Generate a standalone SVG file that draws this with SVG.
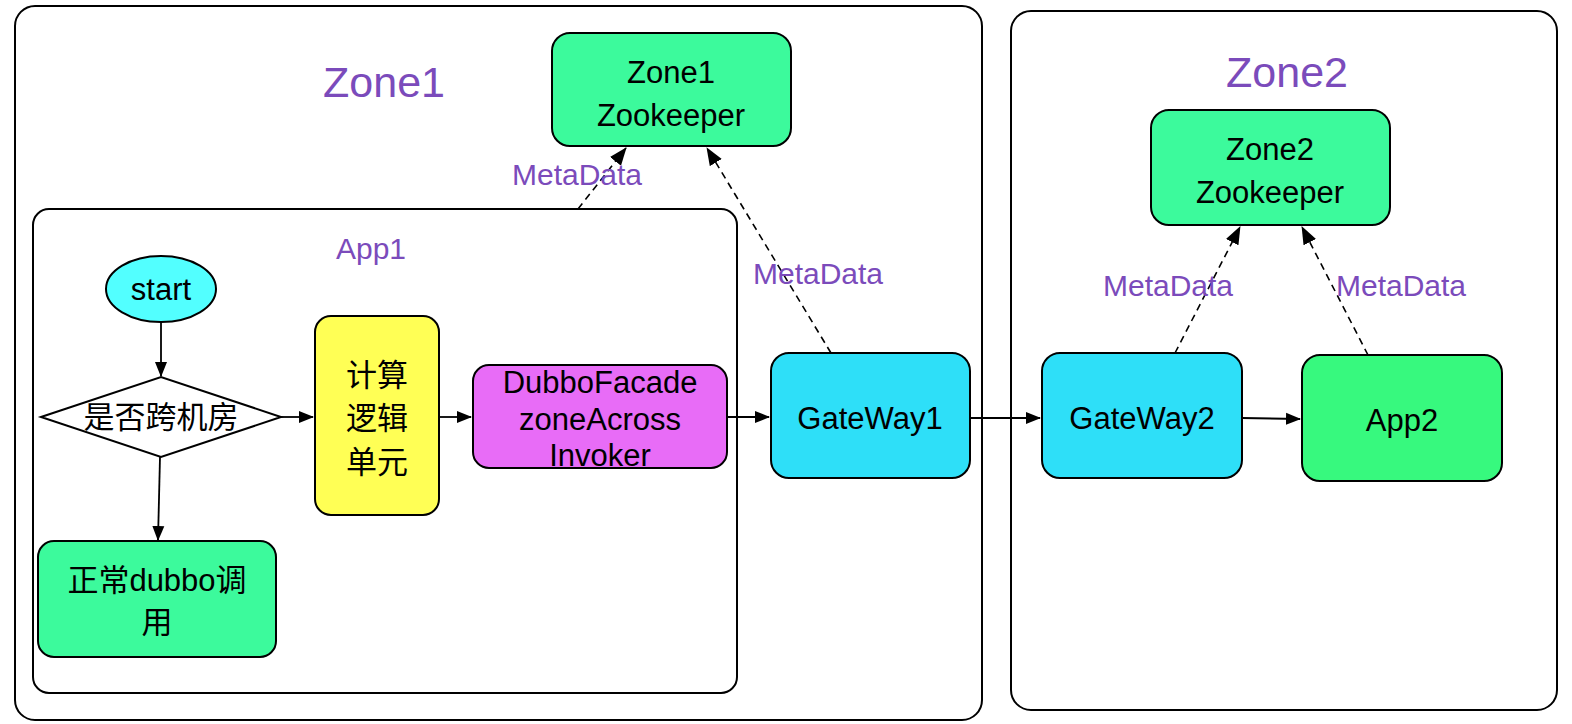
<svg xmlns="http://www.w3.org/2000/svg" width="1572" height="724" viewBox="0 0 1572 724">
<defs>
<marker id="ah" markerWidth="15" markerHeight="14" refX="14" refY="7" orient="auto" markerUnits="userSpaceOnUse">
<path d="M0,1 L15,7 L0,13 Z" fill="#000"/>
</marker>
<marker id="ahd" markerWidth="18" markerHeight="16" refX="17" refY="8" orient="auto" markerUnits="userSpaceOnUse">
<path d="M0,1 L18,8 L0,15 Z" fill="#000"/>
</marker>
<style>
.zone{fill:#fff;stroke:#000;stroke-width:2}
.box{stroke:#000;stroke-width:2}
.t{font-family:"Liberation Sans","Noto Sans CJK SC",sans-serif;font-size:31px;fill:#000;text-anchor:middle;dominant-baseline:central}
.p{font-family:"Liberation Sans","Noto Sans CJK SC",sans-serif;fill:#7b4bbb;text-anchor:middle;dominant-baseline:central}
.c{stroke:#000;stroke-width:1.8;fill:none;marker-end:url(#ah)}
.d{stroke:#000;stroke-width:1.6;fill:none;stroke-dasharray:7 5;marker-end:url(#ahd)}
</style>
</defs>
<g id="zone1">
<rect class="zone" x="15" y="6" width="967" height="714" rx="20"/>
<text class="p" x="384" y="82" font-size="43">Zone1</text>
</g>
<g id="zone2">
<rect class="zone" x="1011" y="11" width="546" height="699" rx="20"/>
<text class="p" x="1287" y="72" font-size="43">Zone2</text>
</g>
<g id="app1">
<rect class="zone" x="33" y="209" width="704" height="484" rx="16"/>
<text class="p" x="371" y="248" font-size="30">App1</text>
</g>
<g id="zk1">
<rect class="box" x="552" y="33" width="239" height="113" rx="18" fill="#3cfa9c"/>
<text class="t" x="671" y="72">Zone1</text>
<text class="t" x="671" y="115">Zookeeper</text>
</g>
<g id="zk2">
<rect class="box" x="1151" y="110" width="239" height="115" rx="18" fill="#3cfa9c"/>
<text class="t" x="1270" y="149">Zone2</text>
<text class="t" x="1270" y="192">Zookeeper</text>
</g>
<g id="start">
<ellipse class="box" cx="161" cy="289" rx="55" ry="33" fill="#52ffff"/>
<text class="t" x="161" y="289">start</text>
</g>
<g id="decision">
<polygon class="box" points="41,417 161,377 281,417 161,457" fill="#fff" stroke-width="1.6"/>
<text class="t" x="161" y="417">是否跨机房</text>
</g>
<g id="normal">
<rect class="box" x="38" y="541" width="238" height="116" rx="16" fill="#3cfa9c"/>
<text class="t" x="157" y="580">正常dubbo调</text>
<text class="t" x="157" y="622">用</text>
</g>
<g id="calc">
<rect class="box" x="315" y="316" width="124" height="199" rx="16" fill="#ffff55"/>
<text class="t" x="377" y="375">计算</text>
<text class="t" x="377" y="418">逻辑</text>
<text class="t" x="377" y="462">单元</text>
</g>
<g id="facade">
<rect class="box" x="473" y="365" width="254" height="103" rx="16" fill="#e86cf7"/>
<text class="t" x="600" y="382">DubboFacade</text>
<text class="t" x="600" y="419">zoneAcross</text>
<text class="t" x="600" y="455">Invoker</text>
</g>
<g id="gw1">
<rect class="box" x="771" y="353" width="199" height="125" rx="18" fill="#2edff8"/>
<text class="t" x="870" y="418">GateWay1</text>
</g>
<g id="gw2">
<rect class="box" x="1042" y="353" width="200" height="125" rx="18" fill="#2edff8"/>
<text class="t" x="1142" y="418">GateWay2</text>
</g>
<g id="app2">
<rect class="box" x="1302" y="355" width="200" height="126" rx="18" fill="#37f97e"/>
<text class="t" x="1402" y="420">App2</text>
</g>
<g id="connectors">
<line class="c" x1="161" y1="322" x2="161" y2="376"/>
<line class="c" x1="160" y1="457" x2="158" y2="540"/>
<line class="c" x1="281" y1="417" x2="313" y2="417"/>
<line class="c" x1="439" y1="417" x2="471" y2="417"/>
<line class="c" x1="727" y1="417" x2="769" y2="417"/>
<line class="c" x1="970" y1="418" x2="1040" y2="418"/>
<line class="c" x1="1242" y1="418" x2="1300" y2="419"/>
<line class="d" x1="578" y1="209" x2="626" y2="148"/>
<line class="d" x1="831" y1="353" x2="707" y2="148"/>
<line class="d" x1="1175" y1="353" x2="1240" y2="227"/>
<line class="d" x1="1368" y1="355" x2="1302" y2="227"/>
<text class="p" x="577" y="174" font-size="30">MetaData</text>
<text class="p" x="818" y="273" font-size="30">MetaData</text>
<text class="p" x="1168" y="285" font-size="30">MetaData</text>
<text class="p" x="1401" y="285" font-size="30">MetaData</text>
</g>
</svg>
